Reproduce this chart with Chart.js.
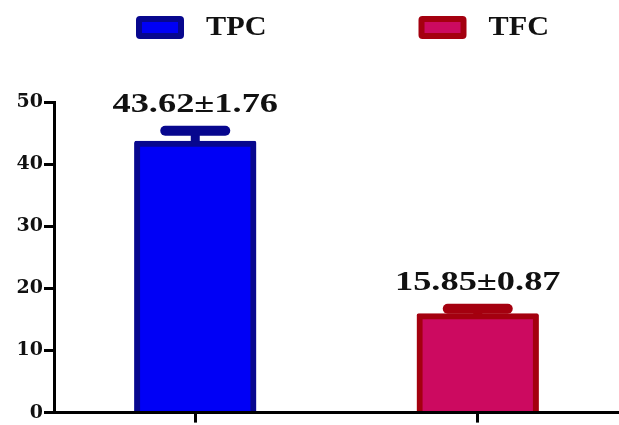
<!DOCTYPE html>
<html>
<head>
<meta charset="utf-8">
<script src="https://cdn.jsdelivr.net/npm/chart.js@4.4.1/dist/chart.umd.min.js"></script>
<style>
    html, body { margin: 0; padding: 0; background: #fff; }
    .wrap { width: 619px; height: 425px; }
</style>
</head>
<body>
<div class="wrap"><canvas id="chart"></canvas></div>
<script>
// Data
const categories = ['TPC', 'TFC'];
const means = [43.62, 15.85];
const errors = [1.76, 0.87];
const yTicks = [0, 10, 20, 30, 40, 50];

const fillColors = ['#0000f6', '#cc0a60'];
const edgeColors = ['#07078e', '#a4000f'];
const serif = '"Liberation Serif", "Times New Roman", serif';

// text in the original is stretched sideways, so draw it scaled
function wideText(ctx, text, x, y, size, stretch, align) {
    ctx.save();
    ctx.font = `bold ${size}px ${serif}`;
    ctx.translate(x, y);
    ctx.scale(stretch, 1);
    ctx.textAlign = align;
    ctx.fillText(text, 0, 0);
    ctx.restore();
}

// Error bars with the value labels above them
const errorBarPlugin = {
    id: 'errorBars',
    afterDatasetsDraw(chart) {
        const ctx = chart.ctx;
        const y = chart.scales.y;
        const meta = chart.getDatasetMeta(0);
        meta.data.forEach((bar, i) => {
            const yVal = y.getPixelForValue(means[i]);
            const yTop = y.getPixelForValue(means[i] + errors[i]);
            ctx.save();
            ctx.strokeStyle = edgeColors[i];
            ctx.fillStyle = edgeColors[i];
            ctx.lineWidth = 9;
            ctx.beginPath();
            ctx.moveTo(bar.x, yVal);
            ctx.lineTo(bar.x, yTop);
            ctx.stroke();
            ctx.beginPath();
            ctx.roundRect(bar.x - 35, yTop - 5, 70, 10, 5);
            ctx.fill();

            ctx.fillStyle = '#111';
            ctx.textBaseline = 'alphabetic';
            wideText(ctx, `${means[i].toFixed(2)}±${errors[i].toFixed(2)}`, bar.x, yTop - 19, 28, 1.3, 'center');
            ctx.restore();
        });
    }
};

// Legend, one item above each category
const legendPlugin = {
    id: 'wideLegend',
    afterDraw(chart) {
        const ctx = chart.ctx;
        const x = chart.scales.x;
        ctx.save();
        ctx.font = `bold 27px ${serif}`;
        ctx.textBaseline = 'middle';
        categories.forEach((name, i) => {
            const tw = ctx.measureText(name).width * 1.12;
            const itemW = 48 + 22 + tw;
            const left = x.getPixelForValue(i) + 6 - itemW / 2;
            ctx.fillStyle = edgeColors[i];
            ctx.beginPath();
            ctx.roundRect(left, 16, 48, 23, 4);
            ctx.fill();
            ctx.fillStyle = fillColors[i];
            ctx.fillRect(left + 6, 22, 36, 11);
            ctx.fillStyle = '#111';
            wideText(ctx, name, left + 70, 28, 27, 1.12, 'left');
        });
        ctx.restore();
    }
};

new Chart(document.getElementById('chart'), {
    type: 'bar',
    data: {
        labels: categories,
        datasets: [{
            data: means,
            backgroundColor: fillColors,
            borderColor: edgeColors,
            borderWidth: 6,
            borderRadius: 2,
            inflateAmount: 1,
            categoryPercentage: 1,
            barPercentage: 0.426
        }]
    },
    options: {
        responsive: true,
        maintainAspectRatio: false,
        animation: false,
        layout: { padding: { top: 102, right: 0, bottom: -3, left: 0 } },
        plugins: {
            legend: { display: false },
            tooltip: { enabled: false }
        },
        scales: {
            x: {
                grid: {
                    offset: false,
                    drawOnChartArea: false,
                    drawTicks: true,
                    tickLength: 10,
                    lineWidth: 3,
                    color: '#000'
                },
                border: { display: true, color: '#000', width: 3 },
                ticks: { display: false }
            },
            y: {
                min: yTicks[0],
                max: yTicks[yTicks.length - 1],
                afterBuildTicks(scale) {
                    scale.ticks = yTicks.map(v => ({ value: v }));
                },
                afterFit(scale) {
                    scale.width = 54;
                },
                grid: {
                    drawOnChartArea: false,
                    drawTicks: true,
                    tickLength: 10,
                    lineWidth: 3,
                    color: '#000'
                },
                border: { display: true, color: '#000', width: 3 },
                ticks: {
                    color: '#111',
                    padding: 1,
                    font: { family: 'DejaVu Serif', size: 19, weight: 'bold' }
                }
            }
        }
    },
    plugins: [errorBarPlugin, legendPlugin]
});
</script>
</body>
</html>
